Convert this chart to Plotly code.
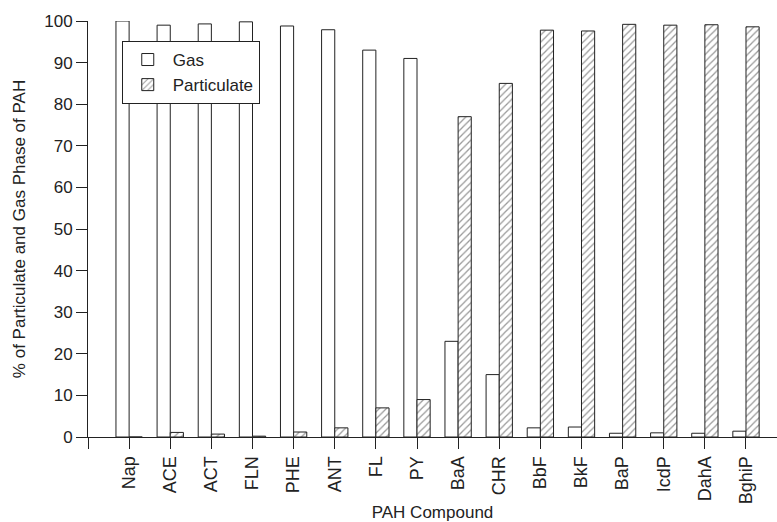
import plotly.graph_objects as go

compounds = ["Nap", "ACE", "ACT", "FLN", "PHE", "ANT", "FL", "PY", "BaA", "CHR",
             "BbF", "BkF", "BaP", "IcdP", "DahA", "BghiP"]
gas = [100, 99.0, 99.3, 99.8, 98.8, 97.9, 93.0, 91.0, 23.0, 15.0,
       2.2, 2.4, 0.9, 1.0, 0.9, 1.4]
particulate = [0, 1.1, 0.7, 0.2, 1.2, 2.2, 7.0, 9.0, 77.0, 85.0,
               97.8, 97.6, 99.2, 99.0, 99.1, 98.6]
y_ticks = [0, 10, 20, 30, 40, 50, 60, 70, 80, 90, 100]

pos = list(range(len(compounds)))
bw = 0.32

fig = go.Figure()
fig.add_trace(go.Bar(
    x=pos, y=gas, name="Gas", width=bw, offset=-bw,
    marker=dict(color="white", line=dict(color="#222", width=1)),
))
fig.add_trace(go.Bar(
    x=pos, y=particulate, name="Particulate", width=bw, offset=0,
    marker=dict(color="white", line=dict(color="#222", width=1),
                pattern=dict(shape="/", fgcolor="#333", bgcolor="white",
                             size=5, solidity=0.25)),
))

fig.update_layout(
    width=777, height=522,
    margin=dict(l=88, r=0, t=21, b=85),
    paper_bgcolor="white", plot_bgcolor="white",
    font=dict(family="Liberation Sans, Arial, sans-serif", size=17, color="#222"),
    barmode="overlay",
    showlegend=True,
    legend=dict(x=0.049, y=0.952, xanchor="left", yanchor="top",
                bgcolor="white", bordercolor="#222", borderwidth=1,
                font=dict(size=17), itemwidth=40, tracegroupgap=0),
    xaxis=dict(
        range=[-1, 15.754],
        tickmode="array",
        tickvals=[-1] + pos,
        ticktext=[""] + compounds,
        tickangle=-90,
        ticks="outside", ticklen=11, tickcolor="#222",
        showline=True, linecolor="#222", linewidth=1,
        showgrid=False, zeroline=False,
        title=dict(text="PAH Compound", font=dict(size=17), standoff=4),
        tickfont=dict(size=18),
        automargin=False,
    ),
    yaxis=dict(
        range=[0, 100],
        tickmode="array", tickvals=y_ticks,
        ticks="outside", ticklen=11, tickcolor="#222",
        showline=True, linecolor="#222", linewidth=1, mirror=True,
        showgrid=False, zeroline=False,
        title=dict(text="% of Particulate and Gas Phase of PAH", font=dict(size=17), standoff=14),
        tickfont=dict(size=17),
        automargin=False,
    ),
)

fig.write_html("out.html")
